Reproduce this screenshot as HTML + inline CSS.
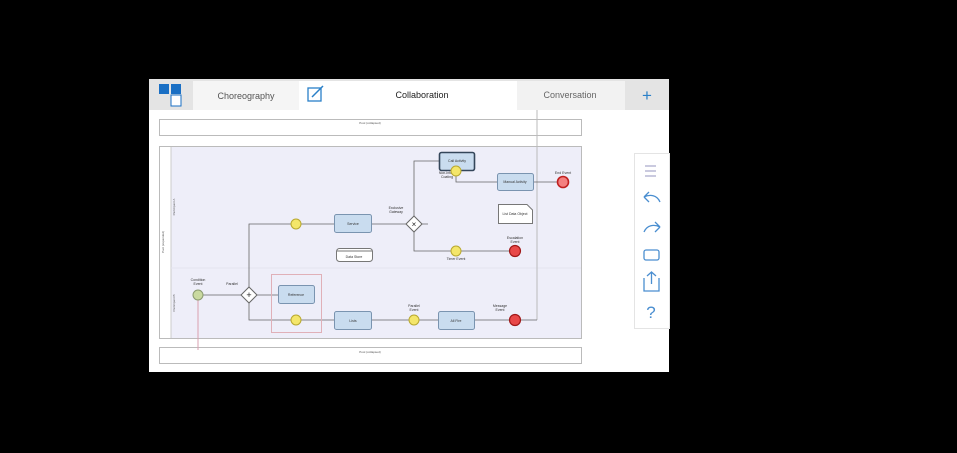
<!DOCTYPE html>
<html><head><style>
body{margin:0;background:#000;width:957px;height:448px;overflow:hidden;font-family:"Liberation Sans",sans-serif}
</style></head><body>
<svg width="957" height="448" viewBox="0 0 957 448" xmlns="http://www.w3.org/2000/svg" font-family="Liberation Sans, sans-serif">
<rect x="149" y="79" width="520" height="293" fill="#fff"/>
<rect x="149" y="79" width="520" height="31" fill="#e4e4e4"/>
<rect x="193" y="81" width="106" height="29" fill="#f5f5f5"/>
<rect x="299" y="81" width="218" height="29" fill="#fff"/>
<rect x="517" y="81" width="108" height="29" fill="#f2f2f2"/>
<rect x="159" y="84" width="10" height="10" fill="#1a6fc4"/><rect x="171" y="84" width="10" height="10" fill="#1a6fc4"/>
<rect x="171" y="95" width="10" height="11" fill="#fff" stroke="#1a6fc4"/>
<rect x="308" y="88" width="13" height="13" fill="none" stroke="#2a80c8" stroke-width="1.3"/>
<line x1="312" y1="97" x2="323" y2="86" stroke="#2a80c8" stroke-width="1.5"/>
<text x="246" y="99" font-size="9" fill="#555" text-anchor="middle">Choreography</text>
<text x="422" y="98" font-size="9" fill="#222" text-anchor="middle">Collaboration</text>
<text x="570" y="98" font-size="9" fill="#666" text-anchor="middle">Conversation</text>
<text x="647" y="101" font-size="17" fill="#2a80c8" text-anchor="middle">+</text>
<rect x="159.5" y="119.5" width="422" height="16" fill="#fff" stroke="#bbb"/>
<text x="370" y="124" font-size="3" fill="#555" text-anchor="middle">Pool (collapsed)</text>
<rect x="159.5" y="146.5" width="422" height="192" fill="#fff" stroke="#bbb"/>
<rect x="171" y="147" width="410" height="191" fill="#eeeef9"/>
<line x1="171" y1="147" x2="171" y2="338" stroke="#ccc"/>
<line x1="171" y1="268" x2="581" y2="268" stroke="#e4e4f0"/>
<text x="164" y="242" font-size="3" fill="#555" transform="rotate(-90 164 242)" text-anchor="middle">Pool (expanded)</text>
<text x="175" y="207" font-size="3" fill="#555" transform="rotate(-90 175 207)" text-anchor="middle">Participant A</text>
<text x="175" y="303" font-size="3" fill="#555" transform="rotate(-90 175 303)" text-anchor="middle">Participant B</text>
<rect x="159.5" y="347.5" width="422" height="16" fill="#fff" stroke="#bbb"/>
<text x="370" y="353" font-size="3" fill="#555" text-anchor="middle">Pool (collapsed)</text>
<line x1="537" y1="110" x2="537" y2="320" stroke="#bbb"/>
<line x1="198" y1="300" x2="198" y2="350" stroke="#d9a0b0"/>
<g stroke="#666" fill="none" stroke-width="0.8">
<path d="M203 295H242M256 295H278M249 288V224H291M249 302V320H291M301 224H334M371 224H407M414 217V161H439M421 224H428M414 231V251H451M461 251H510M301 320H334M371 320H409M419 320H438M474 320H510M520 320H537M456 176V182H497M533 182H558"/>
</g>
<rect x="271.5" y="274.5" width="50" height="58" fill="none" stroke="#e0b0b8"/>
<path d="M249 287L257 295L249 303L241 295Z" fill="#fff" stroke="#666"/>
<text x="249" y="298" font-size="9" text-anchor="middle" fill="#222">+</text>
<path d="M414 216L422 224L414 232L406 224Z" fill="#fff" stroke="#666"/>
<text x="414" y="227" font-size="8" text-anchor="middle" fill="#222">×</text>
<g fill="#c9dcef" stroke="#7a94b0">
<rect x="334.5" y="214.5" width="37" height="18" rx="2"/>
<rect x="278.5" y="285.5" width="36" height="18" rx="2"/>
<rect x="334.5" y="311.5" width="37" height="18" rx="2"/>
<rect x="439.5" y="152.5" width="35" height="18" rx="2" stroke="#34465a" stroke-width="1.6"/>
<rect x="497.5" y="173.5" width="36" height="17" rx="2"/>
<rect x="438.5" y="311.5" width="36" height="18" rx="2"/>
</g>
<rect x="336.5" y="248.5" width="36" height="13" rx="3" fill="#fff" stroke="#777"/>
<line x1="337" y1="251" x2="372" y2="251" stroke="#777"/>
<path d="M498.5 204.5H527L532.5 210V223.5H498.5Z" fill="#fff" stroke="#777"/>
<g font-size="3.5" fill="#333" text-anchor="middle">
<text x="353" y="225">Service</text><text x="296" y="296">Reference</text><text x="353" y="322">Lists</text>
<text x="457" y="162">Call Activity</text><text x="515" y="183">Manual Activity</text><text x="456" y="322">All Fire</text>
<text x="198" y="281">Condition</text><text x="198" y="285">Event</text><text x="232" y="285">Parallel</text>
<text x="396" y="209">Exclusive</text><text x="396" y="213">Gateway</text>
<text x="447" y="174">Non-interr.</text><text x="447" y="178">Coating</text>
<text x="563" y="174">End Event</text><text x="456" y="260">Timer Event</text>
<text x="515" y="239">Escalation</text><text x="515" y="243">Event</text>
<text x="414" y="307">Parallel</text><text x="414" y="311">Event</text>
<text x="500" y="307">Message</text><text x="500" y="311">Event</text>
<text x="354" y="258">Data Store</text><text x="515" y="215">List Data Object</text>
</g>
<circle cx="198" cy="295" r="5" fill="#c9d9a0" stroke="#8a9a70"/>
<g fill="#f4e66a" stroke="#b8a830">
<circle cx="296" cy="224" r="5"/><circle cx="296" cy="320" r="5"/><circle cx="456" cy="171" r="5"/>
<circle cx="456" cy="251" r="5"/><circle cx="414" cy="320" r="5"/>
</g>
<circle cx="563" cy="182" r="5.5" fill="#f48080" stroke="#c02020" stroke-width="1.6"/>
<circle cx="515" cy="251" r="5.5" fill="#e84848" stroke="#a01818" stroke-width="1.2"/>
<circle cx="515" cy="320" r="5.5" fill="#e84848" stroke="#a01818" stroke-width="1.2"/>
<rect x="634.5" y="153.5" width="35" height="175" fill="#fff" stroke="#e4e4e4"/>
<g stroke="#4a8ed0" fill="none" stroke-width="1.3">
<path d="M645 166H656M645 171H656M645 176H656" stroke="#aac"/>
<path d="M660 202C657 195 650 194 644 197L649 192M644 197L649 202"/>
<path d="M644 232C647 225 654 224 660 227L655 222M660 227L655 232"/>
<rect x="644" y="250" width="15" height="10" rx="2"/>
<path d="M644 278V291H659V278M651.5 284V272M647 276L651.5 272L656 276"/>
</g>
<text x="651" y="318" font-size="17" fill="#4a8ed0" text-anchor="middle">?</text>
</svg>
</body></html>
